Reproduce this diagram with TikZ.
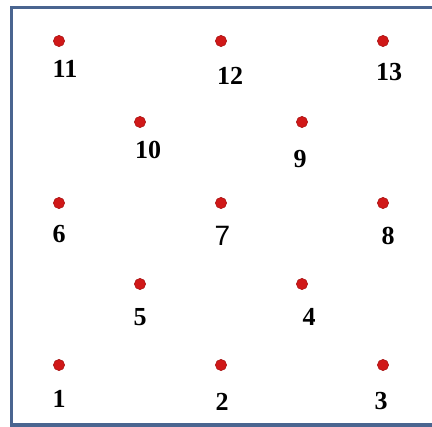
\documentclass[tikz,border=0pt]{standalone}
\usepackage{fontspec}
\setmainfont{Liberation Serif}
\newfontfamily\plainsans{Liberation Sans}
\usepackage{tikz}

\definecolor{framecol}{HTML}{4A6590}
\definecolor{dotcol}{HTML}{D01818}

\begin{document}
\begin{tikzpicture}[x=0.75pt, y=-0.75pt,
    spot/.style={circle, fill=dotcol, draw=dotcol!80!black, line width=0.4pt,
                 minimum size=8.4pt, inner sep=0pt},
    num/.style={font=\fontsize{19.5}{22}\selectfont\bfseries, inner sep=0pt}]

        % --- CANVAS ---
        \useasboundingbox (0,0) rectangle (432,427);
        \draw[framecol, line width=2.6pt] (440,7.5) -- (11.5,7.5) -- (11.5,425) -- (440,425);

        % --- POINTS ---
        \foreach \id/\x/\y in {1/59/365, 2/221/365, 3/383/365,
                               4/302/284, 5/140/284,
                               6/59/203, 7/221/203, 8/383/203,
                               9/302/122, 10/140/122,
                               11/59/41, 12/221/41, 13/383/41}
            \node[spot] (p\id) at (\x,\y) {};

        % --- LABELS ---
        \foreach \id/\x/\y in {1/59/399, 2/222/402, 3/381/401,
                               4/309/317, 5/140/317,
                               6/59/234, 8/388/236,
                               9/300/159, 10/148/150,
                               11/65/69, 12/230/76, 13/389/72}
            \node[num] (n\id) at (\x,\y) {\id};
        \node[num, font=\fontsize{21}{24}\selectfont\plainsans] (n7) at (222.5,236) {7};

    \end{tikzpicture}
\end{document}
